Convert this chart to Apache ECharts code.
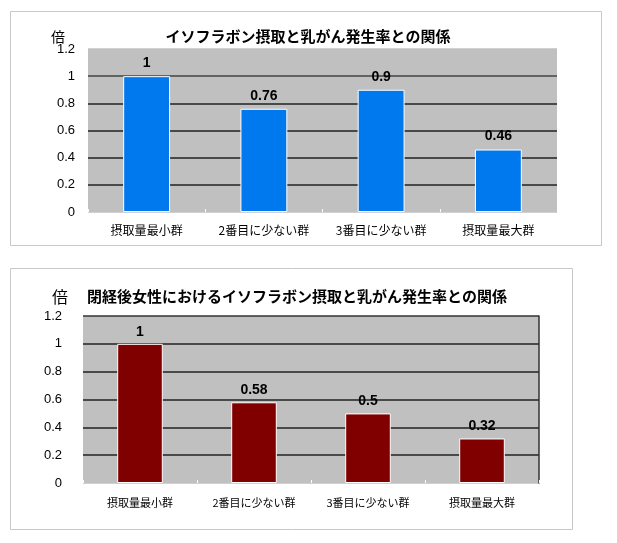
<!DOCTYPE html>
<html lang="ja">
<head>
    <meta charset="UTF-8">
    <style>
        html, body { margin: 0; padding: 0; background: #fff; }
        #main { width: 617px; height: 543px; }
    </style>
    <script src="https://cdn.jsdelivr.net/npm/echarts@6/dist/echarts.min.js"></script>
    <title>イソフラボン摂取と乳がん発生率</title>
</head>
<body>
    <div id="main"></div>
    <script>
        // 共通のカテゴリ
        var groups = ['摂取量最小群', '2番目に少ない群', '3番目に少ない群', '摂取量最大群'];
        var yTicks = [0, 0.2, 0.4, 0.6, 0.8, 1, 1.2];

        // 上のグラフ: 全体
        var title1 = 'イソフラボン摂取と乳がん発生率との関係';
        var ratioAll = [1, 0.76, 0.9, 0.46];

        // 下のグラフ: 閉経後女性
        var title2 = '閉経後女性におけるイソフラボン摂取と乳がん発生率との関係';
        var ratioPost = [1, 0.58, 0.5, 0.32];

        var numFont = '"Liberation Sans", Arial, sans-serif';
        var jpFont = '"Noto Sans CJK JP", sans-serif';

        var myChart = echarts.init(document.getElementById('main'));

        function yAxisFor(idx, margin, lineColors) {
            return {
                type: 'value',
                gridIndex: idx,
                min: yTicks[0],
                max: yTicks[yTicks.length - 1],
                interval: 0.2,
                axisLine: { show: false },
                axisTick: { show: false },
                axisLabel: {
                    margin: margin,
                    color: '#000',
                    fontFamily: numFont,
                    fontSize: 13,
                    formatter: function (v) { return String(Math.round(v * 10) / 10); }
                },
                splitLine: { lineStyle: { color: lineColors, width: 1.5 } }
            };
        }

        function xAxisFor(idx, fontSize, margin) {
            return {
                type: 'category',
                gridIndex: idx,
                data: groups,
                axisLine: { show: false },
                axisTick: {
                    show: true,
                    inside: true,
                    length: 3,
                    lineStyle: { color: '#fff' }
                },
                axisLabel: {
                    interval: 0,
                    margin: margin,
                    color: '#000',
                    fontFamily: jpFont,
                    fontSize: fontSize
                }
            };
        }

        function barSeries(idx, values, color, dist) {
            return {
                type: 'bar',
                xAxisIndex: idx,
                yAxisIndex: idx,
                data: values,
                barWidth: '40%',
                itemStyle: { color: color, borderColor: '#fff', borderWidth: 1 },
                label: {
                    show: true,
                    position: 'top',
                    distance: dist,
                    color: '#000',
                    fontFamily: numFont,
                    fontWeight: 'bold',
                    fontSize: 14
                }
            };
        }

        var option = {
            animation: false,
            title: [{
                text: title1,
                left: 303,
                top: 24,
                textAlign: 'center',
                textStyle: { fontFamily: jpFont, fontSize: 15, fontWeight: 'bold', color: '#000' }
            }, {
                text: '倍',
                left: 46,
                top: 25,
                textStyle: { fontFamily: jpFont, fontSize: 14, fontWeight: 'normal', color: '#000' }
            }, {
                text: title2,
                left: 82,
                top: 284,
                textStyle: { fontFamily: jpFont, fontSize: 15, fontWeight: 'bold', color: '#000' }
            }, {
                text: '倍',
                left: 47,
                top: 284,
                textStyle: { fontFamily: jpFont, fontSize: 16, fontWeight: 'normal', color: '#000' }
            }],
            graphic: [{
                type: 'rect',
                shape: { x: 10.5, y: 11.5, width: 591, height: 234 },
                style: { fill: 'none', stroke: '#c8c8c8', lineWidth: 1 }
            }, {
                type: 'rect',
                shape: { x: 10.5, y: 268.5, width: 562, height: 261 },
                style: { fill: 'none', stroke: '#c8c8c8', lineWidth: 1 }
            }],
            grid: [{
                left: 88, top: 49, width: 469, height: 163,
                show: true, backgroundColor: '#c0c0c0', borderWidth: 0
            }, {
                left: 83, top: 316, width: 456, height: 167,
                show: true, backgroundColor: '#c0c0c0', borderWidth: 0
            }],
            xAxis: [xAxisFor(0, 12, 12), xAxisFor(1, 11, 14)],
            yAxis: [
                yAxisFor(0, 13, ['#c0c0c0', '#222', '#222', '#222', '#222', '#444', '#c0c0c0']),
                yAxisFor(1, 21, ['#c0c0c0', '#222', '#222', '#222', '#222', '#222', '#333']),
                {
                    type: 'value',
                    gridIndex: 1,
                    position: 'right',
                    min: 0,
                    max: 1.2,
                    interval: 0.2,
                    axisLine: { show: true, lineStyle: { color: '#333', width: 1.5 } },
                    axisTick: { show: false },
                    axisLabel: { show: false },
                    splitLine: { show: false }
                }
            ],
            series: [
                barSeries(0, ratioAll, '#0078ee', 6),
                barSeries(1, ratioPost, '#800000', 5)
            ]
        };
        myChart.setOption(option);
    </script>
</body>
</html>
